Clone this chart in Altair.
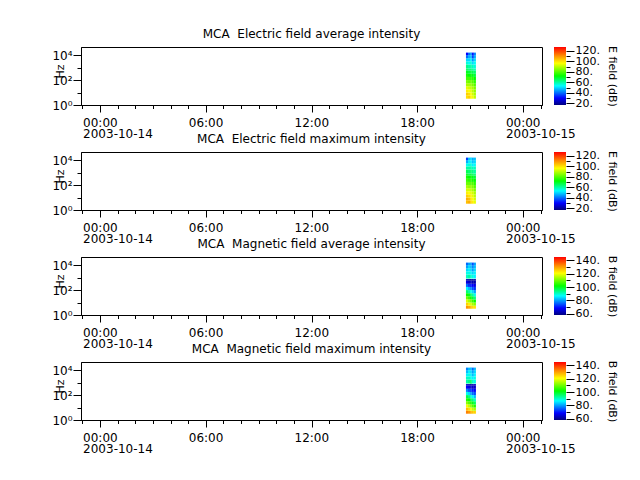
import altair as alt
import pandas as pd

# ---------------- data ----------------
titles = [
    "MCA \u00a0Electric field average intensity",
    "MCA \u00a0Electric field maximum intensity",
    "MCA \u00a0Magnetic field average intensity",
    "MCA \u00a0Magnetic field maximum intensity",
]
cbar_titles = ["E field (dB)", "E field (dB)", "B field (dB)", "B field (dB)"]
cbar_ranges = [[17, 127], [17, 127], [58, 145], [58, 145]]
cbar_ticks = [list(range(20, 121, 10)), list(range(20, 121, 10)),
              list(range(60, 141, 10)), list(range(60, 141, 10))]

# time columns of the spectrogram
t_start = ["2003-10-14T20:46:00", "2003-10-14T20:53:00", "2003-10-14T21:00:00",
           "2003-10-14T21:06:00", "2003-10-14T21:13:00"]
t_end = ["2003-10-14T20:53:00", "2003-10-14T21:00:00", "2003-10-14T21:06:00",
         "2003-10-14T21:13:00", "2003-10-14T21:20:00"]

# frequency channels (Hz)
f_low = [3.2, 5.6, 10, 18, 32, 56, 100, 178, 316, 562, 760, 840, 1778, 3162, 5623, 10000]
f_high = [5.6, 10, 18, 32, 56, 100, 178, 316, 562, 760, 840, 1778, 3162, 5623, 10000, 16000]

# intensities (dB), rows = frequency channels (low -> high), cols = time columns
e_avg = [
    [100, 102, 98, 95, 90],
    [102, 100, 96, 92, 88],
    [98, 96, 94, 90, 86],
    [94, 92, 90, 88, 84],
    [88, 88, 86, 84, 80],
    [84, 82, 82, 80, 76],
    [78, 78, 76, 76, 72],
    [74, 72, 72, 70, 68],
    [70, 68, 68, 66, 64],
    [66, 64, 64, 62, 60],
    [64, 62, 62, 60, 58],
    [62, 60, 60, 58, 56],
    [56, 54, 56, 50, 54],
    [50, 50, 52, 44, 50],
    [40, 46, 48, 36, 46],
    [30, 40, 44, 32, 42],
]
e_max = [
    [104, 106, 102, 98, 94],
    [106, 104, 100, 96, 92],
    [102, 100, 98, 94, 90],
    [98, 96, 94, 92, 88],
    [92, 92, 90, 88, 84],
    [88, 86, 86, 84, 80],
    [82, 82, 80, 80, 76],
    [78, 76, 76, 74, 72],
    [74, 72, 72, 70, 68],
    [70, 68, 68, 66, 64],
    [68, 66, 66, 64, 62],
    [66, 64, 64, 62, 60],
    [60, 60, 60, 58, 58],
    [54, 56, 56, 52, 54],
    [46, 52, 52, 48, 50],
    [36, 48, 50, 46, 48],
]
b_avg = [
    [131, 129, 127, 124, 123],
    [125, 122, 118, 114, 112],
    [118, 114, 110, 106, 102],
    [110, 106, 102, 98, 94],
    [102, 100, 96, 92, 88],
    [95, 92, 88, 84, 80],
    [86, 82, 78, 74, 72],
    [76, 72, 70, 68, 66],
    [66, 64, 63, 62, 62],
    [62, 61, 60, 60, 61],
    [None, None, None, None, None],
    [90, 92, 90, 88, 86],
    [88, 88, 86, 84, 86],
    [84, 86, 84, 80, 84],
    [80, 84, 82, 78, 82],
    [76, 80, 80, 74, 80],
]
b_max = [
    [133, 131, 129, 126, 125],
    [127, 124, 120, 116, 114],
    [120, 116, 112, 108, 104],
    [112, 108, 104, 100, 96],
    [104, 102, 98, 94, 90],
    [97, 94, 90, 86, 82],
    [88, 84, 80, 76, 74],
    [78, 74, 72, 70, 68],
    [68, 66, 65, 64, 64],
    [64, 63, 62, 62, 63],
    [None, None, 96, None, None],
    [92, 94, 96, 90, 88],
    [90, 90, 88, 86, 88],
    [86, 88, 86, 82, 86],
    [82, 86, 84, 80, 84],
    [78, 82, 82, 76, 82],
]
panels = [e_avg, e_max, b_avg, b_max]

# colour table (positions along the colour bar, colours)
stop_pos = [0.0, 0.12, 0.33, 0.5, 0.72, 0.85, 1.0]
stop_col = ["#00007f", "#0000ff", "#00ffff", "#00ff00", "#ffff00", "#ff8c00", "#ff0000"]

# ---------------- chart ----------------
W, H = 461, 58
CB_W, CB_H = 12, 58

x_domain = [alt.DateTime(year=2003, month=10, date=13, hours=22, minutes=55),
            alt.DateTime(year=2003, month=10, date=15, hours=1, minutes=5)]
x_ticks = ([alt.DateTime(year=2003, month=10, date=13, hours=23)]
           + [alt.DateTime(year=2003, month=10, date=14, hours=h) for h in range(24)]
           + [alt.DateTime(year=2003, month=10, date=15, hours=h) for h in range(2)])

x_label_expr = ("hours(datum.value) % 6 == 0 ? (hours(datum.value) == 0 ? "
                "[timeFormat(datum.value, '%H:%M'), timeFormat(datum.value, '%Y-%m-%d')] : "
                "timeFormat(datum.value, '%H:%M')) : ''")
y_label_expr = ("datum.value == 1 ? '10\u2070' : datum.value == 100 ? '10\u00b2' : "
                "datum.value == 10000 ? '10\u2074' : ''")

cells = []
for p, vals in enumerate(panels):
    recs = []
    for i in range(len(f_low)):
        for j in range(len(t_start)):
            recs.append({"t0": t_start[j], "t1": t_end[j],
                         "f0": f_low[i], "f1": f_high[i], "v": vals[i][j]})
    df = pd.DataFrame(recs)
    lo, hi = cbar_ranges[p]
    cdomain = [lo + s * (hi - lo) for s in stop_pos]

    spec = alt.Chart(df).transform_filter("isValid(datum.v)").mark_rect().encode(
        x=alt.X("t0:T", scale=alt.Scale(domain=x_domain, nice=False),
                axis=alt.Axis(values=x_ticks, title=None, grid=False,
                              labelExpr=x_label_expr, labelAlign="left",
                              labelOffset=-17.5, labelPadding=5, labelLineHeight=11,
                              labelBaseline="top", labelOverlap=False, labelFlush=False,
                              tickSize={"condition": {"test": "hours(datum.value) % 6 == 0",
                                                      "value": 7}, "value": 3.5})),
        x2="t1:T",
        y=alt.Y("f0:Q", scale=alt.Scale(type="log", domain=[1, 45000], nice=False),
                axis=alt.Axis(values=[1, 10, 100, 1000, 10000], title="Hz", grid=False,
                              labelExpr=y_label_expr, labelPadding=1, labelOverlap=False,
                              labelFlush=False, titleX=-21, titleY=24,
                              titleAlign="center", titleBaseline="middle",
                              titleFontSize=11,
                              tickSize={"condition": {"test": "datum.value == 1 || datum.value == 100 || datum.value == 10000",
                                                      "value": 8}, "value": 4})),
        y2="f1:Q",
        color=alt.Color("v:Q", scale=alt.Scale(domain=cdomain, range=stop_col,
                                               interpolate="rgb", clamp=True),
                        legend=None),
    ).properties(
        width=W, height=H,
        title=alt.TitleParams(titles[p], fontSize=12, fontWeight="normal",
                              anchor="middle", offset=6),
    )

    grad = alt.LinearGradient(
        gradient="linear",
        stops=[alt.GradientStop(offset=s, color=c) for s, c in zip(stop_pos, stop_col)],
        x1=0, x2=0, y1=1, y2=0,
    )
    cb_df = pd.DataFrame({"lo": [lo], "hi": [hi]})
    cbar = alt.Chart(cb_df).mark_rect(color=grad).encode(
        x=alt.value(0), x2=alt.value(CB_W),
        y=alt.Y("lo:Q", scale=alt.Scale(domain=[lo, hi], nice=False, zero=False),
                axis=alt.Axis(orient="right", values=cbar_ticks[p], title=cbar_titles[p],
                              domain=False, grid=False, labelPadding=1,
                              labelOverlap=False, labelFlush=False, labelBaseline="middle",
                              labelFontSize=11,
                              labelExpr="datum.value % 20 == 0 ? datum.value + '.' : ''",
                              titleFontSize=11, titlePadding=7,
                              tickSize={"condition": {"test": "datum.value % 20 == 0",
                                                      "value": 8}, "value": 4})),
        y2="hi:Q",
    ).properties(width=CB_W, height=CB_H,
                 view=alt.ViewBackground(stroke="transparent"))

    cells.extend([spec, cbar])

chart = alt.concat(
    *cells, columns=2, spacing={"row": 47, "column": 12}, bounds="flush"
).resolve_scale(
    color="independent"
).properties(
    padding={"left": 51, "top": 27, "right": 5, "bottom": 5},
    background="white",
).configure(
    font="DejaVu Sans",
).configure_view(
    stroke="black", strokeWidth=1,
).configure_axis(
    labelFontSize=12, titleFontSize=12, labelColor="black", titleColor="black",
    tickColor="black", domainColor="black", titleFontWeight="normal",
    labelFont="DejaVu Sans", titleFont="DejaVu Sans",
)

chart.save("out.html", embed_options={"renderer": "svg", "actions": False})
